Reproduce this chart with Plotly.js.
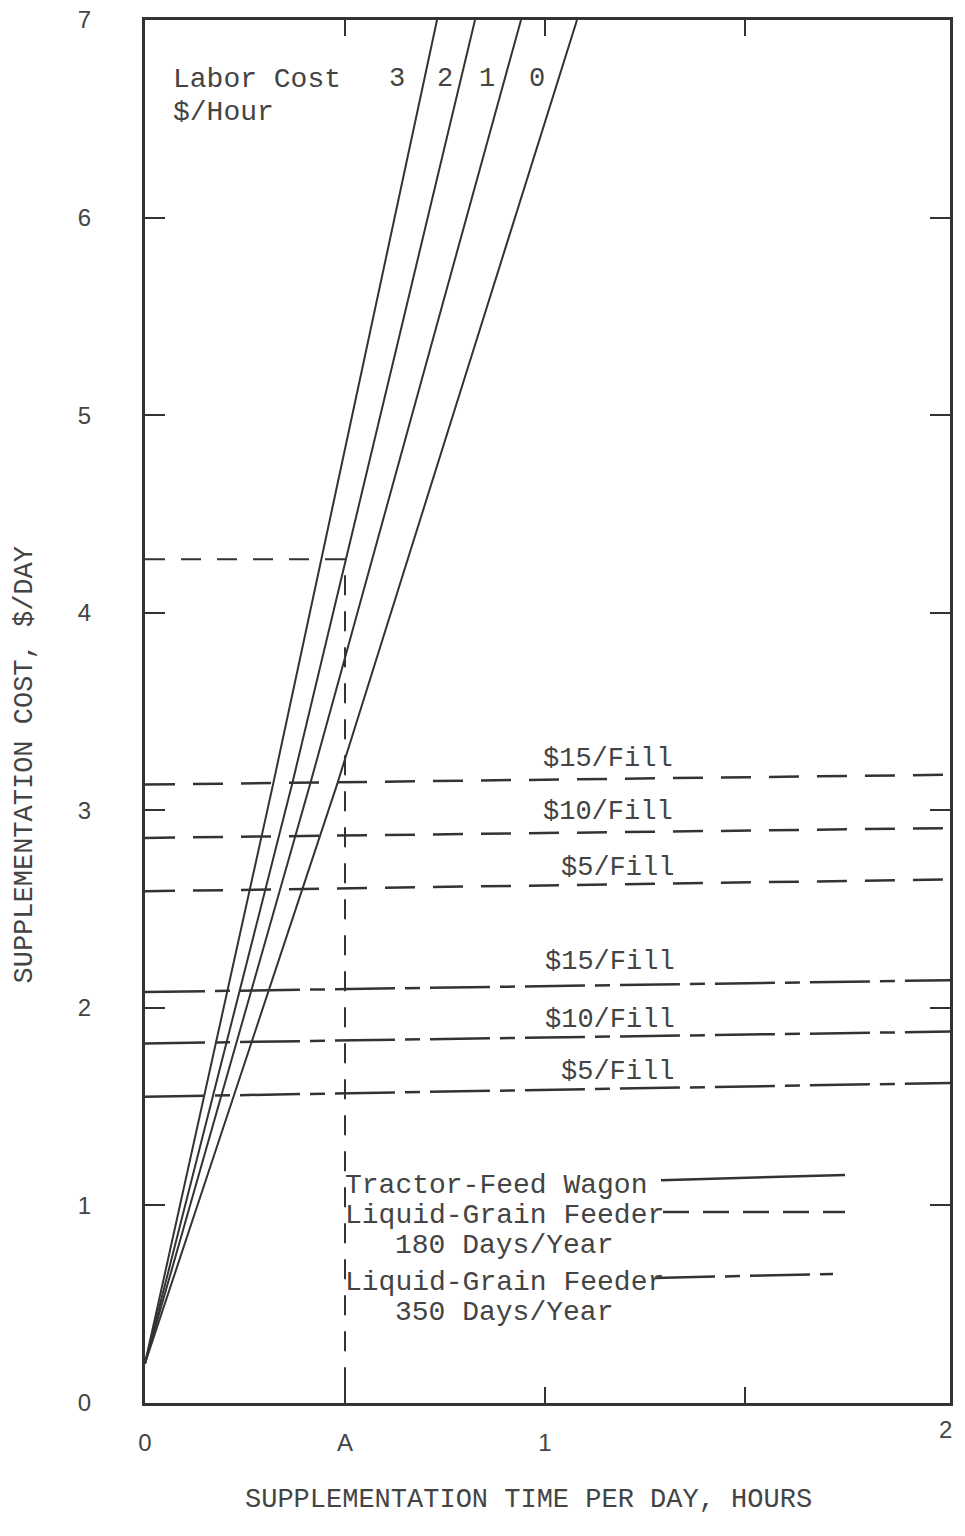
<!DOCTYPE html>
<html><head><meta charset="utf-8">
<script src="https://cdn.plot.ly/plotly-3.0.1.min.js"></script>
<style>body{margin:0;background:#fff}#chart{width:965px;height:1536px}</style>
</head><body><div id="chart"></div>
<script>
// Tractor-feed wagon lines, labor cost $/hour
const laborRates = ['3', '2', '1', '0'];
const laborTimeHours = [
  [0, 0.32, 0.73],
  [0, 0.3675, 0.825],
  [0, 0.4125, 0.94],
  [0, 0.48, 1.08]
];
const laborCost = [
  [0.2, 3.13, 7],
  [0.2, 3.13, 7],
  [0.2, 3.13, 7],
  [0.2, 3.13, 7]
];
// Liquid-grain feeder lines
const fillLabels = ['$15/Fill', '$10/Fill', '$5/Fill'];
const fillTime = [0, 2.0125];
const feeder180Cost = [[3.13, 3.18], [2.86, 2.91], [2.59, 2.65]];
const feeder350Cost = [[2.08, 2.14], [1.82, 1.88], [1.55, 1.62]];
// Example read-off A -> B
const exampleTime = [0, 0.5, 0.5];
const exampleCost = [4.27, 4.27, 0];
// Axis ticks
const xTickVals = [0, 0.5, 1, 1.5];
const xTickText = ['0', 'A', '1', ''];
const xEndLabel = '2';
const yTickVals = [0, 1, 2, 3, 4, 5, 6, 7];
const yTickText = ['0', '1', '2', '3', '4', '5', '6', '7'];
const xTitle = 'SUPPLEMENTATION TIME PER DAY, HOURS';
const yTitle = 'SUPPLEMENTATION COST, $/DAY';

const ink = '#333';
const txt = '#444';
const mono = 'Liberation Mono, Courier New, monospace';
const sans = 'Liberation Sans, Arial, sans-serif';

const traces = [];
laborRates.forEach((r, i) => {
  traces.push({x: laborTimeHours[i], y: laborCost[i], mode: 'lines', name: 'Labor $' + r + '/hr',
    line: {color: ink, width: 2}, showlegend: false, hoverinfo: 'skip'});
});
fillLabels.forEach((f, i) => {
  traces.push({x: fillTime, y: feeder180Cost[i], mode: 'lines', name: '180 d ' + f,
    line: {color: ink, width: 2.5, dash: '30px,18px'}, showlegend: false, hoverinfo: 'skip'});
});
fillLabels.forEach((f, i) => {
  traces.push({x: fillTime, y: feeder350Cost[i], mode: 'lines', name: '350 d ' + f,
    line: {color: ink, width: 2.5, dash: '60px,10px,15px,10px'}, showlegend: false, hoverinfo: 'skip'});
});
traces.push({x: exampleTime, y: exampleCost, mode: 'lines', name: 'example',
  line: {color: ink, width: 2, dash: '20px,16px'}, showlegend: false, hoverinfo: 'skip'});

function ann(text, x, y, opts) {
  return Object.assign({text: text, x: x, y: y, xref: 'x', yref: 'y', showarrow: false,
    font: {family: mono, size: 27, color: txt}}, opts || {});
}
const legFont = {family: mono, size: 28, color: txt};

const annotations = [
  ann('Labor Cost', 0.065, 6.70, {xanchor: 'left', font: legFont}),
  ann('$/Hour', 0.065, 6.53, {xanchor: 'left', font: legFont}),
  ann(laborRates[0], 0.63, 6.70),
  ann(laborRates[1], 0.75, 6.70),
  ann(laborRates[2], 0.855, 6.70),
  ann(laborRates[3], 0.98, 6.70),
  ann(fillLabels[0], 1.1575, 3.26),
  ann(fillLabels[1], 1.1575, 2.99),
  ann(fillLabels[2], 1.18, 2.71),
  ann(fillLabels[0], 1.1625, 2.23),
  ann(fillLabels[1], 1.1625, 1.94),
  ann(fillLabels[2], 1.18, 1.675),
  ann('Tractor-Feed Wagon', 0.495, 1.10, {xanchor: 'left', font: legFont}),
  ann('Liquid-Grain Feeder', 0.495, 0.95, {xanchor: 'left', font: legFont}),
  ann('180 Days/Year', 0.62, 0.795, {xanchor: 'left', font: legFont}),
  ann('Liquid-Grain Feeder', 0.495, 0.61, {xanchor: 'left', font: legFont}),
  ann('350 Days/Year', 0.62, 0.46, {xanchor: 'left', font: legFont}),
  ann('B', -0.1125, 4.24, {font: {family: 'Liberation Serif, serif', size: 22, color: txt}}),
  ann('C', -0.105, 2.81, {font: {family: 'Liberation Serif, serif', size: 24, color: txt}}),
  {text: xEndLabel, x: 2, xref: 'x', y: -0.0195, yref: 'paper', xanchor: 'center', yanchor: 'middle', showarrow: false,
    font: {family: sans, size: 24, color: txt}},
  {text: xTitle, x: 0.476, xref: 'paper', y: -0.070, yref: 'paper', xanchor: 'center', yanchor: 'middle', showarrow: false,
    font: {family: mono, size: 27, color: txt}},
  {text: yTitle, x: -0.149, xref: 'paper', y: 0.461, yref: 'paper', xanchor: 'center', yanchor: 'middle',
    textangle: -90, showarrow: false, font: {family: mono, size: 27, color: txt}}
];

const shapes = [
  {type: 'line', xref: 'x', yref: 'y', x0: 1.29, y0: 1.128, x1: 1.75, y1: 1.154, line: {color: ink, width: 2.5}},
  {type: 'line', xref: 'x', yref: 'y', x0: 1.295, y0: 0.967, x1: 1.75, y1: 0.967, line: {color: ink, width: 2.5, dash: '26px,14px'}},
  {type: 'line', xref: 'x', yref: 'y', x0: 1.275, y0: 0.633, x1: 1.72, y1: 0.653, line: {color: ink, width: 2.5, dash: '60px,10px,15px,10px'}}
];

const layout = {
  width: 965, height: 1536, autosize: false,
  margin: {l: 145, r: 15, t: 20, b: 133},
  paper_bgcolor: '#fff', plot_bgcolor: '#fff',
  showlegend: false,
  xaxis: {
    range: [0, 2.0125], tickvals: xTickVals, ticktext: xTickText,
    ticks: 'inside', ticklen: 16, tickwidth: 2, tickcolor: ink,
    showline: true, linewidth: 3, linecolor: ink, mirror: 'ticks',
    showgrid: false, zeroline: false, ticklabelstandoff: 16,
    tickfont: {family: sans, size: 24, color: txt}
  },
  yaxis: {
    range: [0, 7], tickvals: yTickVals, ticktext: yTickText,
    ticks: 'inside', ticklen: 20, tickwidth: 2, tickcolor: ink,
    showline: true, linewidth: 3, linecolor: ink, mirror: 'ticks',
    showgrid: false, zeroline: false, ticklabelstandoff: 46,
    tickfont: {family: sans, size: 24, color: txt}
  },
  annotations: annotations,
  shapes: shapes
};

Plotly.newPlot('chart', traces, layout, {staticPlot: true, displayModeBar: false});
</script>
</body></html>
